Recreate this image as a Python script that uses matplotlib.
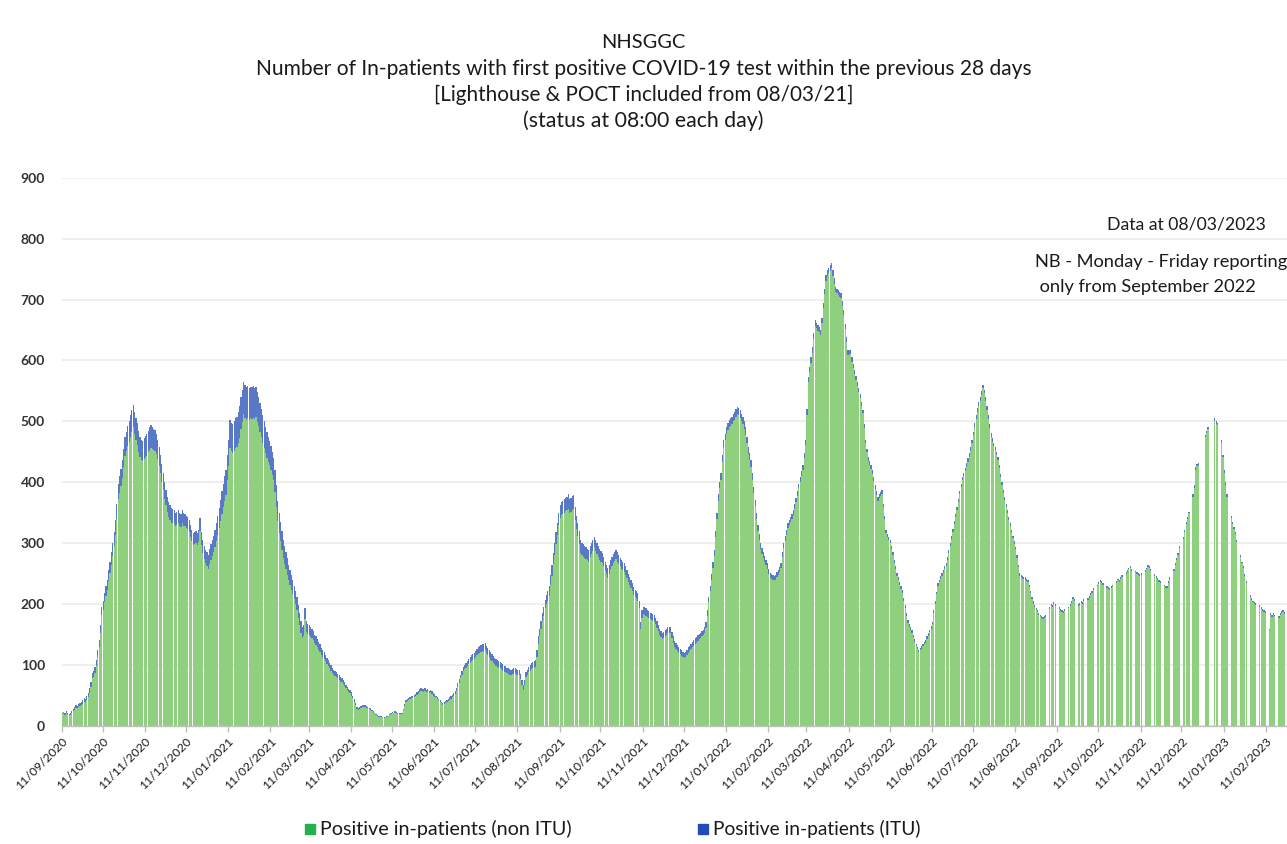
import matplotlib
matplotlib.use('Agg')
import matplotlib.pyplot as plt
from matplotlib.patches import Rectangle
import numpy as np
import pandas as pd

# ---------------- data (daily, from 11/09/2020) ----------------
start_date = '2020-09-11'

# total positive in-patients (non ITU + ITU); 0 = no report (weekend / holiday)
tot_a = [22, 23, 21, 24, 22, 20, 21, 25, 28, 31,
         34, 33, 36, 38, 40, 42, 46, 45, 49, 54,
         62, 72, 87, 90, 97, 108, 124, 141, 165, 196,
         205, 218, 229, 240, 256, 270, 285, 300, 318, 338,
         365, 398, 410, 422, 436, 455, 475, 483, 492, 500,
         510, 518, 527, 515, 505, 497, 484, 475, 470, 468,
         472, 476, 480, 485, 490, 494, 491, 488, 486, 480,
         470, 458, 445, 430, 415, 400, 388, 376, 368, 362,
         358, 356, 354, 350, 352, 355, 350, 348, 354, 350,
         348, 345, 343, 338, 330, 322, 316, 318, 320, 317,
         322, 341, 318, 305, 296, 289, 285, 281, 290, 298,
         305, 312, 322, 333, 345, 358, 371, 385, 398, 410,
         420, 445, 470, 502, 498, 495, 500, 505, 508, 515,
         525, 540, 552, 565, 560, 556, 558, 555, 557, 556,
         558, 555, 557, 548, 540, 530, 520, 510, 500, 491,
         482, 475, 468, 460, 450, 440, 420, 395, 370, 349,
         335, 320, 305, 295, 285, 275, 265, 256, 248, 240,
         230, 222, 212, 198, 185, 172, 163, 166, 193, 172]
tot_b = [168, 165, 162, 160, 156, 150, 147, 142, 138, 134,
         128, 125, 121, 117, 112, 108, 104, 100, 96, 92,
         90, 88, 85, 83, 80, 78, 75, 72, 68, 64,
         61, 59, 55, 50, 44, 38, 32, 30, 31, 33,
         34, 35, 34, 33, 32, 30, 29, 27, 24, 22,
         20, 18, 17, 16, 16, 15, 14, 15, 16, 17,
         19, 21, 23, 22, 24, 23, 22, 21, 21, 22,
         28, 36, 43, 44, 46, 47, 49, 50, 51, 53,
         55, 57, 60, 62, 61, 60, 62, 59, 60, 58,
         59, 57, 54, 52, 50, 47, 45, 42, 40, 37,
         39, 41, 43, 45, 47, 49, 51, 54, 58, 63,
         70, 77, 84, 90, 97, 100, 104, 107, 110, 113,
         116, 118, 120, 123, 126, 129, 131, 133, 135, 134,
         136, 132, 128, 125, 121, 118, 115, 112, 110, 108,
         106, 105, 103, 101, 99, 98, 96, 95, 93, 92,
         94, 95, 96, 93, 92, 92, 85, 76, 67, 75,
         88, 92, 97, 100, 103, 105, 106, 108, 125, 147,
         160, 172, 185, 195, 207, 215, 222, 229, 248, 265]
tot_c = [284, 300, 318, 333, 350, 363, 368, 370, 372, 375,
         376, 380, 372, 375, 378, 379, 360, 345, 333, 320,
         305, 300, 298, 295, 293, 291, 289, 295, 300, 305,
         311, 305, 300, 295, 290, 287, 284, 278, 270, 265,
         259, 265, 272, 278, 283, 286, 289, 285, 280, 276,
         272, 270, 267, 262, 256, 250, 245, 240, 235, 228,
         224, 221, 218, 205, 171, 190, 196, 195, 193, 190,
         188, 186, 185, 184, 182, 178, 172, 166, 160, 156,
         152, 155, 158, 160, 162, 163, 163, 155, 147, 140,
         136, 133, 130, 127, 124, 122, 120, 122, 125, 129,
         132, 135, 138, 141, 144, 146, 149, 151, 153, 156,
         158, 162, 170, 190, 212, 230, 250, 270, 289, 320,
         350, 380, 400, 415, 445, 469, 480, 490, 497, 502,
         505, 508, 512, 515, 520, 524, 522, 518, 512, 508,
         500, 490, 475, 458, 448, 436, 415, 392, 371, 350,
         330, 315, 300, 292, 285, 279, 273, 267, 258, 251,
         250, 248, 247, 248, 252, 256, 261, 267, 285, 300,
         312, 322, 333, 338, 343, 348, 354, 365, 375, 386]
tot_d = [398, 408, 418, 428, 448, 469, 520, 573, 590, 605,
         622, 645, 666, 662, 658, 655, 650, 670, 695, 718,
         740, 748, 752, 756, 760, 748, 735, 721, 718, 715,
         712, 710, 698, 683, 660, 638, 617, 618, 617, 605,
         595, 585, 575, 565, 555, 545, 532, 519, 495, 470,
         455, 441, 435, 428, 420, 408, 395, 385, 376, 380,
         384, 387, 365, 345, 322, 315, 310, 305, 295, 285,
         272, 262, 251, 244, 237, 230, 223, 210, 198, 186,
         174, 168, 163, 158, 150, 142, 135, 130, 125, 128,
         131, 135, 138, 141, 147, 152, 158, 164, 171, 190,
         205, 220, 234, 240, 246, 251, 256, 262, 267, 278,
         289, 300, 312, 324, 336, 348, 360, 372, 385, 398,
         408, 415, 423, 431, 440, 448, 458, 470, 483, 497,
         510, 522, 532, 540, 550, 560, 552, 540, 525, 510,
         495, 481, 472, 465, 458, 450, 442, 428, 414, 400,
         387, 376, 365, 354, 343, 333, 322, 312, 303, 294,
         280, 265, 251, 248, 246, 245, 244, 242, 240, 232,
         222, 212, 205, 199, 194, 190, 185, 183, 181, 179]
tot_e = [180, 182, 0, 0, 195, 200, 198, 204, 200, 0,
         0, 195, 192, 190, 188, 192, 0, 0, 196, 200,
         205, 212, 208, 0, 0, 200, 202, 205, 204, 208,
         0, 0, 210, 213, 218, 222, 226, 0, 0, 232,
         236, 240, 238, 235, 0, 0, 230, 228, 226, 229,
         232, 0, 0, 238, 242, 240, 245, 248, 0, 0,
         252, 256, 260, 262, 258, 0, 0, 255, 252, 251,
         250, 251, 0, 0, 256, 260, 264, 262, 258, 0,
         0, 250, 246, 243, 240, 238, 0, 0, 232, 229,
         229, 238, 245, 0, 0, 258, 268, 276, 284, 295,
         0, 0, 310, 322, 335, 343, 352, 0, 0, 380,
         395, 425, 430, 432, 0, 0, 0, 0, 478, 485,
         491, 0, 0, 0, 0, 505, 500, 498, 0, 0,
         470, 445, 420, 400, 380, 0, 0, 345, 335, 327,
         318, 305, 0, 0, 280, 270, 262, 250, 238, 0,
         0, 215, 210, 206, 204, 202, 0, 0, 198, 195,
         192, 190, 188, 0, 0, 160, 185, 182, 185, 183,
         0, 0, 180, 185, 188, 190, 187, 0, 0, 186,
         182, 180, 178, 176, 0, 0, 175, 172, 170]

# ITU positive in-patients
itu_a = [2, 2, 3, 3, 3, 2, 3, 3, 4, 4,
         4, 4, 5, 5, 5, 6, 6, 6, 7, 7,
         8, 8, 9, 9, 10, 10, 11, 12, 12, 13,
         14, 15, 16, 17, 18, 19, 20, 21, 22, 24,
         25, 26, 27, 28, 29, 30, 31, 32, 33, 34,
         35, 36, 37, 36, 35, 35, 34, 34, 33, 33,
         34, 35, 36, 36, 37, 37, 36, 35, 34, 33,
         32, 31, 30, 29, 28, 27, 26, 25, 25, 24,
         24, 23, 23, 22, 22, 22, 21, 21, 21, 21,
         20, 20, 20, 20, 19, 19, 19, 19, 20, 20,
         20, 21, 21, 21, 22, 22, 22, 23, 24, 25,
         26, 27, 28, 30, 31, 33, 35, 37, 38, 40,
         41, 42, 44, 45, 46, 47, 48, 49, 50, 51,
         52, 52, 53, 53, 54, 54, 53, 53, 52, 52,
         52, 51, 50, 49, 48, 47, 46, 45, 44, 43,
         42, 41, 40, 39, 38, 37, 36, 35, 34, 33,
         32, 31, 30, 29, 28, 27, 26, 25, 24, 23,
         22, 22, 21, 20, 20, 19, 19, 18, 18, 17]
itu_b = [17, 16, 16, 15, 15, 14, 14, 13, 13, 12,
         12, 11, 11, 10, 10, 10, 9, 9, 9, 8,
         8, 8, 7, 7, 7, 6, 6, 6, 6, 5,
         5, 5, 5, 4, 4, 4, 4, 3, 3, 3,
         3, 3, 3, 3, 2, 2, 2, 2, 2, 2,
         2, 2, 2, 2, 2, 1, 1, 1, 1, 1,
         1, 1, 1, 1, 2, 2, 2, 2, 2, 2,
         2, 3, 3, 3, 3, 3, 3, 4, 4, 4,
         4, 4, 4, 4, 4, 4, 4, 4, 4, 4,
         4, 4, 4, 4, 3, 3, 3, 3, 3, 3,
         3, 3, 3, 4, 4, 4, 4, 5, 5, 5,
         6, 6, 6, 7, 7, 7, 8, 8, 8, 9,
         9, 9, 10, 10, 10, 11, 11, 11, 12, 12,
         12, 12, 12, 12, 12, 11, 11, 11, 11, 11,
         10, 10, 10, 10, 10, 10, 9, 9, 9, 9,
         9, 9, 9, 9, 9, 8, 8, 8, 8, 8,
         8, 9, 9, 9, 10, 10, 10, 11, 11, 12,
         12, 13, 13, 14, 14, 15, 16, 16, 17, 18]
itu_c = [18, 19, 19, 20, 20, 21, 21, 22, 22, 22,
         22, 23, 23, 23, 23, 22, 22, 22, 21, 21,
         21, 20, 20, 20, 19, 19, 19, 18, 18, 18,
         18, 18, 17, 17, 17, 17, 16, 16, 16, 16,
         16, 16, 15, 15, 15, 15, 15, 15, 14, 14,
         14, 14, 14, 14, 13, 13, 13, 13, 13, 13,
         12, 12, 12, 12, 12, 12, 12, 12, 12, 11,
         11, 11, 11, 11, 11, 11, 11, 10, 10, 10,
         10, 10, 10, 10, 10, 10, 10, 10, 10, 10,
         10, 10, 10, 9, 9, 9, 9, 9, 9, 9,
         9, 9, 9, 9, 9, 9, 9, 9, 9, 9,
         9, 9, 9, 9, 9, 9, 10, 10, 10, 10,
         10, 10, 10, 11, 11, 11, 11, 11, 11, 12,
         12, 12, 12, 12, 12, 12, 12, 12, 12, 12,
         12, 12, 11, 11, 11, 11, 11, 10, 10, 10,
         10, 10, 10, 9, 9, 9, 9, 9, 9, 8,
         8, 8, 8, 8, 8, 8, 8, 8, 8, 8,
         8, 8, 8, 8, 8, 8, 8, 8, 8, 8]
itu_d = [8, 8, 8, 8, 8, 8, 9, 9, 9, 9,
         9, 9, 9, 9, 9, 9, 9, 9, 9, 9,
         9, 9, 9, 9, 9, 9, 9, 9, 8, 8,
         8, 8, 8, 8, 8, 8, 8, 8, 7, 7,
         7, 7, 7, 7, 7, 7, 7, 6, 6, 6,
         6, 6, 6, 6, 6, 6, 6, 6, 6, 6,
         6, 6, 6, 5, 5, 5, 5, 5, 5, 5,
         5, 5, 5, 5, 5, 5, 5, 5, 5, 5,
         5, 5, 5, 5, 4, 4, 4, 4, 4, 4,
         4, 4, 4, 4, 4, 4, 4, 4, 4, 4,
         4, 4, 4, 4, 5, 5, 5, 5, 5, 5,
         5, 5, 5, 5, 5, 5, 5, 5, 5, 5,
         5, 5, 5, 6, 6, 6, 6, 6, 6, 6,
         6, 6, 6, 6, 6, 6, 6, 6, 6, 6,
         6, 6, 6, 6, 5, 5, 5, 5, 5, 5,
         5, 5, 5, 5, 5, 5, 4, 4, 4, 4,
         4, 4, 4, 4, 4, 4, 4, 4, 4, 4,
         4, 4, 4, 4, 3, 3, 3, 3, 3, 3]
itu_e = [3, 3, 0, 0, 3, 3, 3, 3, 3, 0,
         0, 3, 3, 3, 3, 3, 0, 0, 3, 3,
         3, 3, 3, 0, 0, 3, 3, 3, 3, 3,
         0, 0, 3, 3, 3, 3, 3, 0, 0, 3,
         3, 3, 3, 3, 0, 0, 3, 3, 3, 3,
         3, 0, 0, 3, 3, 3, 3, 3, 0, 0,
         3, 3, 3, 3, 3, 0, 0, 3, 3, 3,
         3, 3, 0, 0, 3, 3, 3, 3, 3, 0,
         0, 3, 3, 3, 3, 3, 0, 0, 3, 3,
         3, 3, 3, 0, 0, 3, 3, 3, 3, 3,
         0, 0, 3, 3, 3, 3, 3, 0, 0, 4,
         4, 4, 4, 4, 0, 0, 0, 0, 4, 4,
         4, 0, 0, 0, 0, 4, 4, 4, 0, 0,
         4, 4, 4, 4, 4, 0, 0, 3, 3, 3,
         3, 3, 0, 0, 3, 3, 3, 3, 3, 0,
         0, 3, 3, 3, 3, 3, 0, 0, 3, 3,
         3, 3, 3, 0, 0, 3, 3, 3, 3, 3,
         0, 0, 3, 3, 3, 3, 3, 0, 0, 3,
         3, 3, 3, 3, 0, 0, 3, 3, 3]

tick_labels = ['11/09/2020', '11/10/2020', '11/11/2020', '11/12/2020',
               '11/01/2021', '11/02/2021', '11/03/2021', '11/04/2021',
               '11/05/2021', '11/06/2021', '11/07/2021', '11/08/2021',
               '11/09/2021', '11/10/2021', '11/11/2021', '11/12/2021',
               '11/01/2022', '11/02/2022', '11/03/2022', '11/04/2022',
               '11/05/2022', '11/06/2022', '11/07/2022', '11/08/2022',
               '11/09/2022', '11/10/2022', '11/11/2022', '11/12/2022',
               '11/01/2023', '11/02/2023']
y_ticks = [0, 100, 200, 300, 400, 500, 600, 700, 800, 900]

title_lines = ['NHSGGC',
               'Number of In-patients with first positive COVID-19 test within the previous 28 days',
               '[Lighthouse & POCT included from 08/03/21]',
               '(status at 08:00 each day)']
legend_labels = ['Positive in-patients (non ITU)', 'Positive in-patients (ITU)']
note_data = 'Data at 08/03/2023'
note_nb = ['NB - Monday - Friday reporting', ' only from September 2022']

# ---------------- build series ----------------
total = np.array(tot_a + tot_b + tot_c + tot_d + tot_e, dtype=float)
itu = np.array(itu_a + itu_b + itu_c + itu_d + itu_e, dtype=float)
assert len(total) == len(itu) == 909, (len(total), len(itu))
non_itu = total - itu
dates = pd.date_range(start_date, periods=len(total), freq='D')
tick_dates = pd.to_datetime(tick_labels, format='%d/%m/%Y')

# ---------------- styling ----------------
FONT = ['Lato', 'DejaVu Sans']
plt.rcParams['font.family'] = FONT
GREEN = '#8fd07e'
BLUE = '#5a78c8'
LEG_GREEN = '#22b14c'
LEG_BLUE = '#1f4db5'
TXT = '#1a1a1a'

W, H = 1287, 844
fig = plt.figure(figsize=(W / 100, H / 100), dpi=100)
fig.patch.set_facecolor('white')

x0_px, y0_px, ytop_px = 61.7, 726.0, 177.7
px_per_day = 1.3639
span_days = 909
ax = fig.add_axes([x0_px / W, (H - y0_px) / H,
                   px_per_day * span_days / W, (y0_px - ytop_px) / H])

ax.bar(dates, non_itu, width=0.9, align='edge', color=GREEN, linewidth=0, zorder=2)
ax.bar(dates, itu, width=0.9, align='edge', bottom=non_itu, color=BLUE, linewidth=0, zorder=2)

ax.set_xlim(dates[0], dates[0] + pd.Timedelta(days=span_days))
ax.set_ylim(0, 900)
ax.set_yticks(y_ticks)
ax.set_yticklabels([str(v) for v in y_ticks])
ax.yaxis.grid(True, color='#ebebeb', linewidth=1.2, zorder=0)
ax.set_axisbelow(True)
for s in ['top', 'right', 'left']:
    ax.spines[s].set_visible(False)
ax.spines['bottom'].set_color('#c0c0c0')
ax.spines['bottom'].set_linewidth(1.0)
ax.spines['bottom'].set_zorder(3)
ax.tick_params(axis='y', length=0, pad=12, labelsize=10, labelcolor='#333333')
for lab in ax.get_yticklabels():
    lab.set_fontweight('bold')

ax.set_xticks(tick_dates)
ax.set_xticklabels(tick_labels, rotation=45, ha='right', va='top',
                   rotation_mode='anchor', fontsize=8.8, color=TXT)
ax.tick_params(axis='x', length=4, width=1, color='#c0c0c0', pad=3)

renderer = fig.canvas.get_renderer()


def fit(t, target_w):
    w = t.get_window_extent(renderer=renderer).width
    t.set_fontsize(t.get_fontsize() * target_w / w)


# title
title_y = [42, 69, 95, 121]
title_w = [84, 780, 420, 240]
for line, yy, tw in zip(title_lines, title_y, title_w):
    t = fig.text(0.5, 1 - yy / H, line, ha='center', va='center', fontsize=14, color=TXT)
    fit(t, tw)

# notes on the right
t = fig.text(1266 / W, 1 - 225 / H, note_data, ha='right', va='center', fontsize=12, color=TXT)
fit(t, 158)
t = fig.text(1035 / W, 1 - 262 / H, note_nb[0], ha='left', va='center', fontsize=12, color=TXT)
fit(t, 252)
t2 = fig.text(1035 / W, 1 - 287 / H, note_nb[1], ha='left', va='center', fontsize=12, color=TXT)
t2.set_fontsize(t.get_fontsize())

# legend (built by hand at the bottom)
leg_y = 829
for (sx, col, lab, tw) in [(305, LEG_GREEN, legend_labels[0], 252),
                           (698, LEG_BLUE, legend_labels[1], 207)]:
    fig.patches.append(Rectangle((sx / W, 1 - (leg_y + 5) / H), 10 / W, 10 / H,
                                 transform=fig.transFigure, color=col, figure=fig))
    t = fig.text((sx + 15) / W, 1 - leg_y / H, lab, ha='left', va='center', fontsize=13, color=TXT)
    fit(t, tw)

fig.savefig('out.png', dpi=100, facecolor='white')
